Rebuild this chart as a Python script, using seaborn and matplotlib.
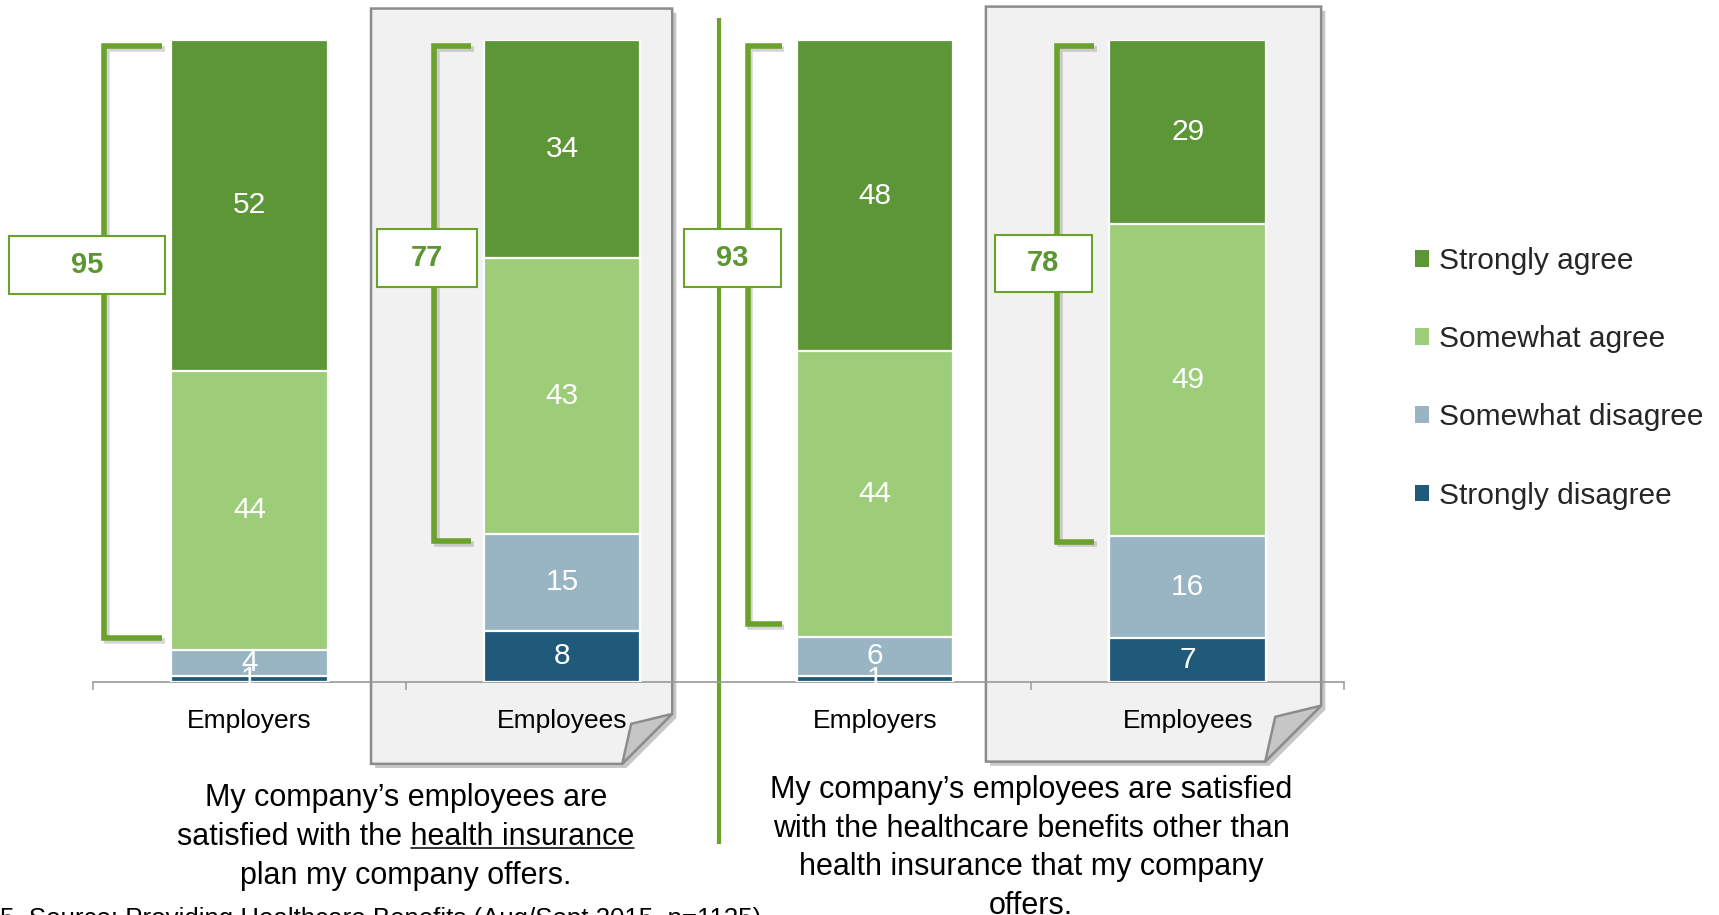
import numpy as np
import pandas as pd
import matplotlib
matplotlib.use("Agg")
import matplotlib.pyplot as plt
import matplotlib.patheffects as pe
from matplotlib.patches import Polygon, Rectangle, Patch
from matplotlib.transforms import IdentityTransform, blended_transform_factory
import seaborn as sns

# ---- data -------------------------------------------------------------
groups = ["Employers", "Employees", "Employers", "Employees"]
questions = ["insurance", "insurance", "other benefits", "other benefits"]
responses = ["Strongly agree", "Somewhat agree", "Somewhat disagree", "Strongly disagree"]
strongly_agree = [52, 34, 48, 29]
somewhat_agree = [44, 43, 44, 49]
somewhat_disagree = [4, 15, 6, 16]
strongly_disagree = [1, 8, 1, 7]
net_agree = [95, 77, 93, 78]

caption_left = ["My company\u2019s employees are",
                "satisfied with the health insurance",
                "plan my company offers."]
underlined_phrase = "health insurance"
caption_right = ["My company\u2019s employees are satisfied",
                 "with the healthcare benefits other than",
                 "health insurance that my company",
                 "offers."]
source_note = "5. Source: Providing Healthcare Benefits (Aug/Sept 2015, n=1125)"

# ---- styling ------------------------------------------------------------
W, H, DPI = 1719, 915, 100
palette = {
    "Strongly agree": "#5d9636",
    "Somewhat agree": "#9dcd78",
    "Somewhat disagree": "#99b5c3",
    "Strongly disagree": "#1f5a7b",
}
bracket_green = "#6aa22c"
label_green = "#5a9632"
panel_face = "#f1f1f1"
panel_edge = "#8c8c8c"
axis_gray = "#9a9a9a"

sns.set_theme(style="white")
plt.rcParams["font.family"] = ["Liberation Sans", "DejaVu Sans"]

keys = [f"{g} / {q}" for g, q in zip(groups, questions)]
df = pd.DataFrame({
    "key": keys,
    "Strongly agree": strongly_agree,
    "Somewhat agree": somewhat_agree,
    "Somewhat disagree": somewhat_disagree,
    "Strongly disagree": strongly_disagree,
})
totals = df[responses].sum(axis=1)
shares = df[responses].div(totals, axis=0) * 100

# cumulative heights from the bottom (strongly disagree) upward
bottom_up = responses[::-1]
cum = shares[bottom_up].cumsum(axis=1)

fig = plt.figure(figsize=(W / DPI, H / DPI), dpi=DPI)
ax = fig.add_axes([93 / W, 1 - 682 / H, (1344 - 93) / W, (682 - 40) / H])
ax.set_facecolor("none")

# stacked bars: draw the tallest cumulative first, then overlay lower ones
for resp in responses:
    plot_df = pd.DataFrame({"key": keys, "height": cum[resp].values})
    sns.barplot(data=plot_df, x="key", y="height", order=keys, color=palette[resp],
                saturation=1, width=0.5, errorbar=None, edgecolor="white",
                linewidth=1.6, ax=ax, zorder=3)
ax.set_xlim(-0.5, 3.5)
ax.set_ylim(0, 100)

# segment value labels
for i in range(len(keys)):
    lower = 0.0
    for resp in bottom_up:
        h = shares.loc[i, resp]
        ax.text(i, lower + h / 2, f"{df.loc[i, resp]}", ha="center", va="center",
                color="white", fontsize=21.5, zorder=5)
        lower += h

# axis styling
for side in ["left", "top", "right"]:
    ax.spines[side].set_visible(False)
ax.spines["bottom"].set_color(axis_gray)
ax.spines["bottom"].set_linewidth(1.2)
ax.set_xlabel("")
ax.set_ylabel("")
ax.set_yticks([])
ax.set_xticks(range(len(keys)))
ax.set_xticklabels(groups, fontsize=19, color="black")
ax.set_xticks(np.arange(-0.5, len(keys), 1.0), minor=True)
ax.tick_params(axis="x", which="major", length=0, pad=19.5)
ax.tick_params(axis="x", which="minor", length=6, width=1.1, color=axis_gray,
               direction="out", bottom=True)

# ---- "paper" panels behind the employee bars ---------------------------
def to_px(x, y):
    return ax.transData.transform((x, y))

panels = [  # (x0, x1, y0, y1) in data units, fold size in px
    (1 - 0.611, 1 + 0.352, -12.75, 104.9, 50),
    (3 - 0.645, 3 + 0.427, -12.4, 105.2, 56),
]
shadow = [pe.withSimplePatchShadow(offset=(3, -3), shadow_rgbFace="black", alpha=0.22)]
for x0, x1, y0, y1, f in panels:
    (px0, py0), (px1, py1) = to_px(x0, y0), to_px(x1, y1)
    body = Polygon([(px0, py0), (px0, py1), (px1, py1), (px1, py0 + f),
                    (px1 - f, py0)], closed=True, transform=IdentityTransform(),
                   facecolor=panel_face, edgecolor=panel_edge, linewidth=1.8,
                   zorder=0.2, clip_on=False, path_effects=shadow)
    ax.add_patch(body)
    flap = Polygon([(px1, py0 + f), (px1 - f * 0.82, py0 + f * 0.8),
                    (px1 - f, py0)], closed=True, transform=IdentityTransform(),
                   facecolor="#c6c6c6", edgecolor=panel_edge, linewidth=1.8,
                   zorder=0.3, clip_on=False)
    ax.add_patch(flap)

# ---- vertical divider between the two questions ------------------------
ax.plot([1.5, 1.5], [-25.3, 103.4], color=bracket_green, lw=3.0,
        solid_capstyle="butt", zorder=2, clip_on=False)

# ---- net-agree brackets and boxes --------------------------------------
bracket_x = [-0.465, -0.409, -0.407, -0.418]     # vertical stroke, rel. to bar
bracket_end = [-0.280, -0.291, -0.298, -0.299]   # tip of horizontal strokes
bracket_trim = [1.9, -1.1, 2.0, -0.9]            # lower stroke nudge, data units
box_x = [-0.52, -0.432, -0.456, -0.462]
box_w = [0.50, 0.32, 0.31, 0.31]
box_y = [65.0, 66.0, 66.0, 65.2]
box_h = 9.0
line_shadow = [pe.SimpleLineShadow(offset=(2, -2), alpha=0.18), pe.Normal()]
agree_bottom = cum["Somewhat disagree"].values
for i in range(len(keys)):
    top = 99.0
    bot = agree_bottom[i] + bracket_trim[i]
    xv, xe = i + bracket_x[i], i + bracket_end[i]
    ax.plot([xe, xv, xv, xe], [top, top, bot, bot], color=bracket_green, lw=4.0,
            solid_joinstyle="miter", solid_capstyle="butt", zorder=2.5,
            clip_on=False, path_effects=line_shadow)
    cx = i + box_x[i]
    ax.add_patch(Rectangle((cx - box_w[i] / 2, box_y[i] - box_h / 2), box_w[i], box_h,
                           facecolor="white", edgecolor=bracket_green, linewidth=1.5,
                           zorder=4, clip_on=False))
    ax.text(cx, box_y[i], f"{net_agree[i]}", ha="center", va="center",
            color=label_green, fontsize=21, fontweight="bold", zorder=5)

# ---- captions under each question ------------------------------------
trans = blended_transform_factory(ax.transData, fig.transFigure)
left_baselines = [806, 845, 884]
right_baselines = [798, 837, 875.5, 914]
line_objs = []
for txt, b in zip(caption_left, left_baselines):
    line_objs.append(ax.text(0.5, 1 - b / H, txt, transform=trans, ha="center",
                             va="baseline", fontsize=22, color="black"))
for txt, b in zip(caption_right, right_baselines):
    ax.text(2.5, 1 - b / H, txt, transform=trans, ha="center", va="baseline",
            fontsize=22, color="black")

# underline the key phrase of the left caption
fig.canvas.draw()
renderer = fig.canvas.get_renderer()
line2 = line_objs[1]
bb_line = line2.get_window_extent(renderer)
probe = fig.text(0, 0, underlined_phrase, fontsize=22)
w_phrase = probe.get_window_extent(renderer).width
probe.remove()
y_ul = H - left_baselines[1] - 3
ax.plot([bb_line.x1 - w_phrase, bb_line.x1], [y_ul, y_ul], color="black", lw=1.1,
        transform=IdentityTransform(), clip_on=False)

# source note (runs off the bottom edge)
fig.text(0.0, 1 - 926 / H, source_note, ha="left", va="baseline", fontsize=18.6,
         color="black")

# ---- legend ---------------------------------------------------------------
handles = [Patch(facecolor=palette[r], edgecolor="none") for r in responses]
fig.legend(handles, responses, loc="upper left",
           bbox_to_anchor=(1415 / W, 1 - 247 / H), frameon=False,
           fontsize=21.5, handlelength=0.47, handleheight=0.47,
           handletextpad=0.32, labelspacing=1.68, borderpad=0, borderaxespad=0)

fig.savefig("out.png", dpi=DPI)
